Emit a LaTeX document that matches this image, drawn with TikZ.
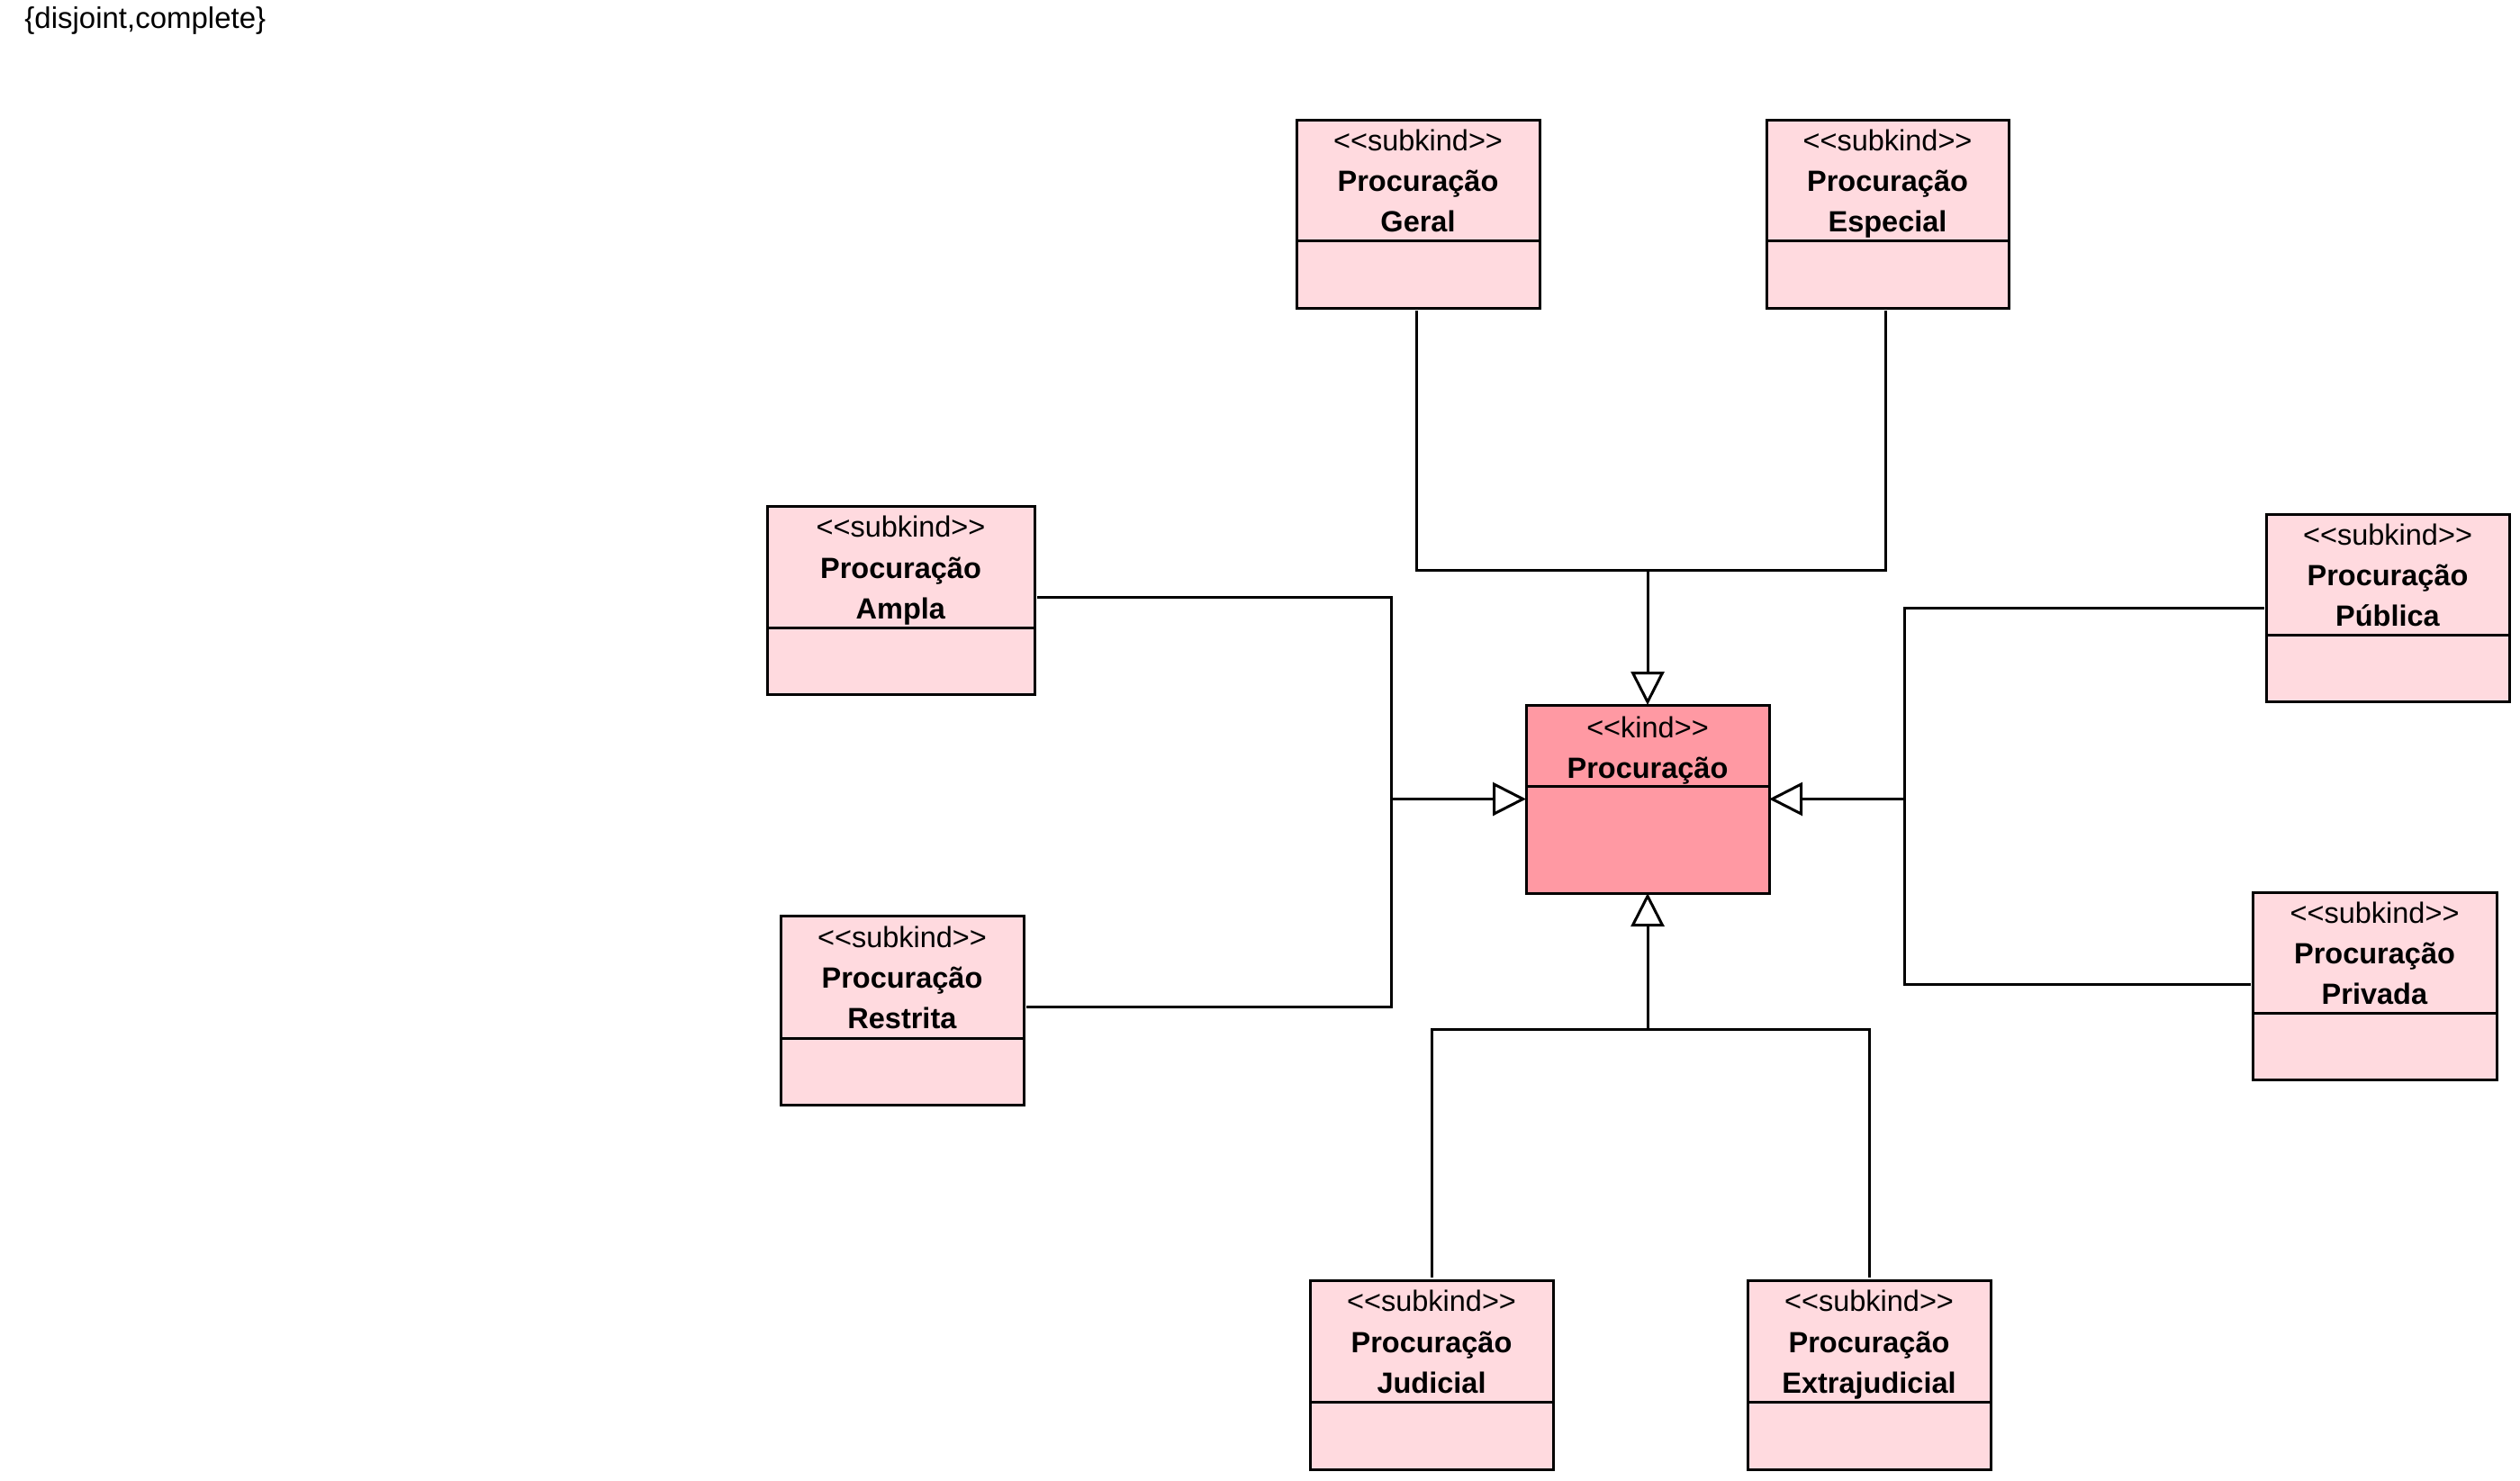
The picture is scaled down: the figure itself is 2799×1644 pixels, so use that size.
\documentclass[tikz,border=0pt]{standalone}
\usepackage{fontspec}
\setmainfont{Liberation Sans}[Ligatures=TeXOff]
\usetikzlibrary{arrows.meta}

\definecolor{subkindfill}{RGB}{255,218,223}
\definecolor{kindfill}{RGB}{255,153,163}

\tikzset{
  classbox/.style={rectangle, draw=black, line width=1.5pt, inner sep=0pt, outer sep=0pt},
  subkindbox/.style={classbox, fill=subkindfill},
  kindbox/.style={classbox, fill=kindfill},
  classtext/.style={align=center, inner sep=0pt, font=\fontsize{16.25pt}{22.6pt}\selectfont},
  subkindboxtext/.style={yshift=-1.8pt},
  kindboxtext/.style={yshift=-2.5pt},
  conn/.style={draw=black, line width=1.5pt},
  gen/.style={conn, -{Triangle[fill=white, length=18.5pt, width=18.5pt]}},
}

% class box: name, style, left, top, right, separator, bottom, text
\newcommand{\umlclass}[8]{%
  \node[#2, minimum width={(#5-#3)*0.5pt}, minimum height={(#7-#4)*0.5pt}]
    (#1) at ({(#3+#5)/2},{(#4+#7)/2}) {};
  \draw[line width=1.5pt] (#1.west |- 0,#6) -- (#1.east |- 0,#6);
  \node[classtext, #2text] (#1-label) at ({(#3+#5)/2},{(#4+#6)/2}) {\strut#8\strut};
}

\begin{document}
\begin{tikzpicture}[x=0.5pt, y=-0.5pt]
  \fill[white] (0,0) rectangle (2799,1644);
  \useasboundingbox (0,0) rectangle (2799,1644);

  \node[anchor=base west, inner sep=0pt, font=\fontsize{16.5pt}{20pt}\selectfont]
    (constraint) at (27,31) {\{disjoint,complete\}};

  % supertype
  \umlclass{kind}{kindbox}{1695}{783}{1965}{873}{992}
    {<<kind>>\\\textbf{Procuração}}

  % subtypes
  \umlclass{geral}{subkindbox}{1440}{133}{1710}{267}{342}
    {<<subkind>>\\\textbf{Procuração}\\\textbf{Geral}}
  \umlclass{especial}{subkindbox}{1962}{133}{2231}{267}{342}
    {<<subkind>>\\\textbf{Procuração}\\\textbf{Especial}}
  \umlclass{ampla}{subkindbox}{852}{562}{1149}{697}{771}
    {<<subkind>>\\\textbf{Procuração}\\\textbf{Ampla}}
  \umlclass{restrita}{subkindbox}{867}{1017}{1137}{1153}{1227}
    {<<subkind>>\\\textbf{Procuração}\\\textbf{Restrita}}
  \umlclass{publica}{subkindbox}{2517}{571}{2787}{705}{779}
    {<<subkind>>\\\textbf{Procuração}\\\textbf{Pública}}
  \umlclass{privada}{subkindbox}{2502}{991}{2773}{1125}{1199}
    {<<subkind>>\\\textbf{Procuração}\\\textbf{Privada}}
  \umlclass{judicial}{subkindbox}{1455}{1422}{1725}{1557}{1632}
    {<<subkind>>\\\textbf{Procuração}\\\textbf{Judicial}}
  \umlclass{extrajudicial}{subkindbox}{1941}{1422}{2211}{1557}{1632}
    {<<subkind>>\\\textbf{Procuração}\\\textbf{Extrajudicial}}

  % joints of the generalization sets
  \coordinate (topjoint) at (1830,633);
  \coordinate (leftjoint) at (1545,887.5);
  \coordinate (rightjoint) at (2115,887.5);
  \coordinate (bottomjoint) at (1830,1143);

  % upper set
  \draw[conn] ([yshift=-1.5pt]geral.south -| 1573,0) |- (topjoint);
  \draw[conn] ([yshift=-1.5pt]especial.south -| 2094,0) |- (topjoint);
  \draw[gen] (topjoint) -- (kind.north);

  % left set
  \draw[conn] ([xshift=1.5pt]ampla.east |- 0,663) -| (leftjoint);
  \draw[conn] ([xshift=1.5pt]restrita.east |- 0,1118) -| (leftjoint);
  \draw[gen] (leftjoint) -- (kind.west);

  % right set
  \draw[conn] ([xshift=-1pt]publica.west |- 0,675) -| (rightjoint);
  \draw[conn] ([xshift=-1pt]privada.west |- 0,1093) -| (rightjoint);
  \draw[gen] (rightjoint) -- (kind.east);

  % lower set
  \draw[conn] ([yshift=1.5pt]judicial.north -| 1590,0) |- (bottomjoint);
  \draw[conn] ([yshift=1.5pt]extrajudicial.north -| 2076,0) |- (bottomjoint);
  \draw[gen] (bottomjoint) -- (kind.south);
\end{tikzpicture}
\end{document}
